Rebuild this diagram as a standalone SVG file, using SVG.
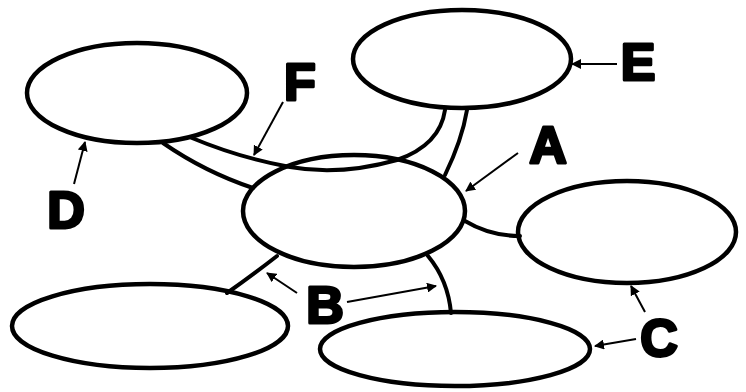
<svg xmlns="http://www.w3.org/2000/svg" width="746" height="392" viewBox="0 0 746 392">
<defs>
<style>
.node{fill:none;stroke:#000;stroke-width:4.5}
.conn{fill:none;stroke:#000;stroke-width:4;stroke-linecap:round}
.arr{fill:none;stroke:#000;stroke-width:2;marker-end:url(#ah)}
.lbl{font-family:"Liberation Sans",Arial,sans-serif;font-weight:bold;font-size:52px;fill:#000;stroke:#000;stroke-width:3;stroke-linejoin:round;text-anchor:middle}
</style>
<marker id="ah" viewBox="0 0 10 10" refX="9" refY="5" markerWidth="5" markerHeight="5" orient="auto" markerUnits="strokeWidth">
<path d="M0,0 L10,5 L0,10 Z" fill="#000"/>
</marker>
</defs>
<rect width="746" height="392" fill="#fff"/>
<g id="connectors">
<path class="conn" d="M163,143 Q205,172 253,188"/>
<path class="conn" d="M192,138 Q240,158 290,167 Q340,176 397,160 Q440,145 445,110"/>
<path class="conn" d="M467,110 Q462,140 445,175"/>
<path class="conn" d="M465,221 Q490,236 520,236"/>
<path class="conn" d="M428,256 Q448,280 451,313"/>
<path class="conn" d="M277,256 Q250,277 227,293"/>
</g>
<g id="node-center"><ellipse class="node" cx="354" cy="211" rx="111" ry="56"/></g>
<g id="node-d"><ellipse class="node" cx="137" cy="93" rx="110" ry="50"/></g>
<g id="node-e"><ellipse class="node" cx="462" cy="59" rx="109" ry="49"/></g>
<g id="node-c1"><ellipse class="node" cx="627" cy="232" rx="109" ry="51"/></g>
<g id="node-b1"><ellipse class="node" cx="150" cy="326" rx="138" ry="42"/></g>
<g id="node-c2"><ellipse class="node" cx="455" cy="349" rx="135" ry="37"/></g>
<g id="labels">
<line class="arr" x1="283" y1="102" x2="254" y2="155"/>
<text class="lbl" x="300" y="100">F</text>
<line class="arr" x1="617" y1="64" x2="572" y2="64"/>
<text class="lbl" x="638" y="80">E</text>
<line class="arr" x1="518" y1="153" x2="466" y2="191"/>
<text class="lbl" x="548" y="163">A</text>
<line class="arr" x1="74" y1="184" x2="85" y2="142"/>
<text class="lbl" x="66" y="228">D</text>
<line class="arr" x1="297" y1="293" x2="267" y2="273"/>
<line class="arr" x1="347" y1="302" x2="436" y2="286"/>
<text class="lbl" x="325" y="323">B</text>
<line class="arr" x1="645" y1="312" x2="631" y2="286"/>
<line class="arr" x1="636" y1="339" x2="595" y2="346"/>
<text class="lbl" x="659" y="356">C</text>
</g>
</svg>
